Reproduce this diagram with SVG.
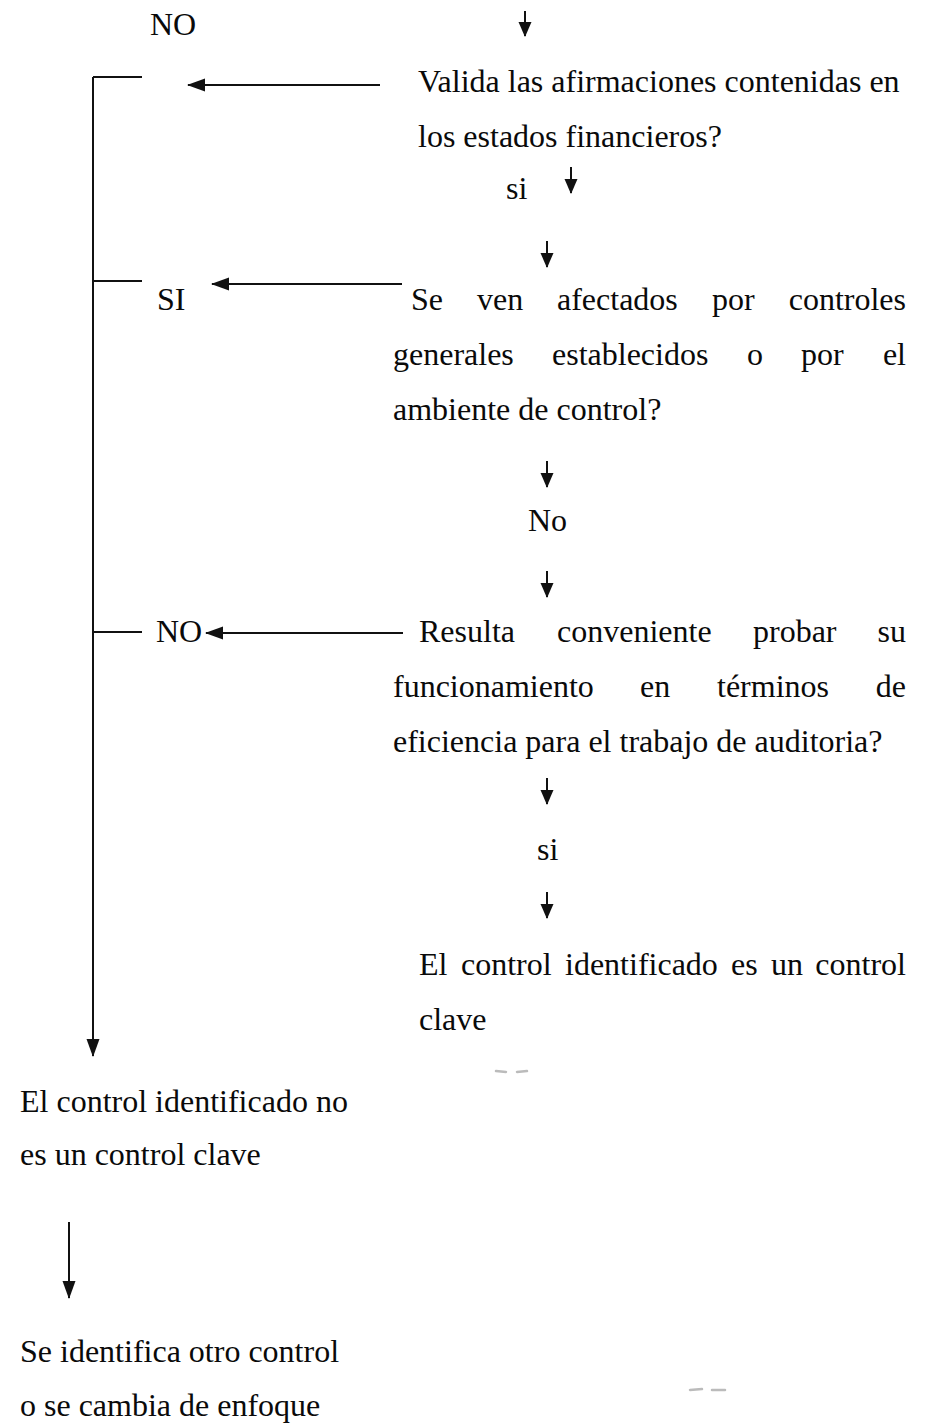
<svg xmlns="http://www.w3.org/2000/svg" width="932" height="1425" viewBox="0 0 932 1425">
<style>
text{font-family:"Liberation Serif","Times New Roman",serif;font-size:32px;fill:#0a0a0a}
.ln{stroke:#111;stroke-width:2;fill:none}
.arr{stroke:#111;stroke-width:2;fill:none;marker-end:url(#ah)}
.sm{stroke:#111;stroke-width:2;fill:none;marker-end:url(#sh)}
.end{text-anchor:end}
</style>
<defs>
<marker id="ah" markerUnits="userSpaceOnUse" markerWidth="18" markerHeight="14" refX="17" refY="6.5" orient="auto" viewBox="0 0 18 13">
<path d="M0,0 L18,6.5 L0,13 z" fill="#111"/>
</marker>
<marker id="sh" markerUnits="userSpaceOnUse" markerWidth="15" markerHeight="14" refX="14" refY="6.5" orient="auto" viewBox="0 0 15 13">
<path d="M0,0 L15,6.5 L0,13 z" fill="#111"/>
</marker>
</defs>
<rect width="932" height="1425" fill="#fff"/>
<g id="connectors">
<path class="ln" d="M142,77 H93"/>
<path class="arr" d="M93,77 V1056"/>
<path class="ln" d="M93,281 H142"/>
<path class="ln" d="M93,632 H142"/>
<path class="arr" d="M380,85 H188"/>
<path class="arr" d="M402,284 H212"/>
<path class="arr" d="M403,633 H206"/>
<path class="sm" d="M525,11 V36"/>
<path class="sm" d="M571,167 V193"/>
<path class="sm" d="M547,241 V267"/>
<path class="sm" d="M547,461 V487"/>
<path class="sm" d="M547,571 V597"/>
<path class="sm" d="M547,778 V804"/>
<path class="sm" d="M547,892 V918"/>
<path class="arr" d="M69,1222 V1298"/>
</g>
<g id="smudges" fill="none" stroke="#bbb" stroke-width="2.5" stroke-linecap="round">
<path d="M496,1071 l10,1"/>
<path d="M517,1072 l10,-1"/>
<path d="M690,1390 l12,-1"/>
<path d="M712,1390 l13,0"/>
</g>
<g id="label-no-top"><text x="150" y="35">NO</text></g>
<g id="q1">
<text x="418" y="92">Valida las afirmaciones contenidas en</text>
<text x="418" y="147">los estados financieros?</text>
</g>
<g id="label-si-1"><text x="506" y="199">si</text></g>
<g id="label-SI"><text x="157" y="310">SI</text></g>
<g id="q2">
<text x="411" y="310">Se</text><text x="477" y="310">ven</text><text x="557" y="310">afectados</text><text x="712" y="310">por</text><text class="end" x="906" y="310">controles</text>
<text x="393" y="365">generales</text><text x="552" y="365">establecidos</text><text x="747" y="365">o</text><text x="801" y="365">por</text><text class="end" x="906" y="365">el</text>
<text x="393" y="420">ambiente de control?</text>
</g>
<g id="label-No"><text x="528" y="531">No</text></g>
<g id="label-NO-2"><text x="156" y="642">NO</text></g>
<g id="q3">
<text x="419" y="642">Resulta</text><text x="557" y="642">conveniente</text><text x="753" y="642">probar</text><text class="end" x="906" y="642">su</text>
<text x="393" y="697">funcionamiento</text><text x="640" y="697">en</text><text x="717" y="697">términos</text><text class="end" x="906" y="697">de</text>
<text x="393" y="752">eficiencia para el trabajo de auditoria?</text>
</g>
<g id="label-si-2"><text x="537" y="860">si</text></g>
<g id="key">
<text x="419" y="975">El</text><text x="461" y="975">control</text><text x="565" y="975">identificado</text><text x="731" y="975">es</text><text x="771" y="975">un</text><text class="end" x="906" y="975">control</text>
<text x="419" y="1030">clave</text>
</g>
<g id="not-key">
<text x="20" y="1112">El control identificado no</text>
<text x="20" y="1165">es un control clave</text>
</g>
<g id="other">
<text x="20" y="1362">Se identifica otro control</text>
<text x="20" y="1416">o se cambia de enfoque</text>
</g>
</svg>
